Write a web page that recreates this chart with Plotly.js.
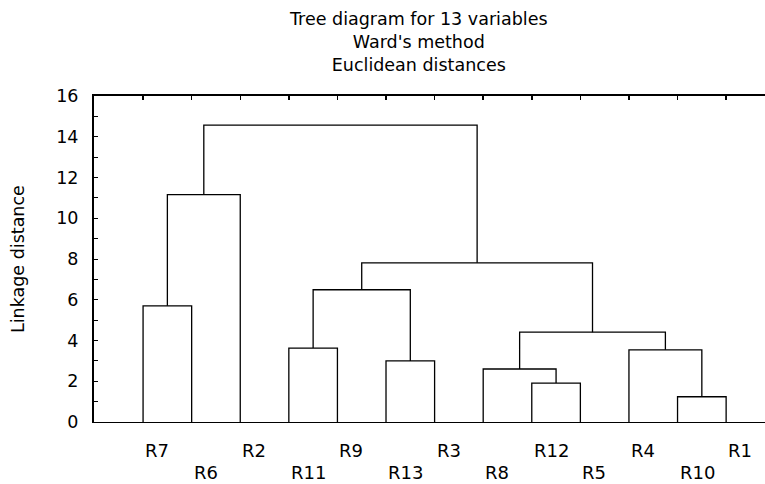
<!DOCTYPE html>
<html>
<head>
<meta charset="utf-8">
<script src="https://cdn.plot.ly/plotly-3.0.1.min.js"></script>
<style>html,body{margin:0;padding:0;background:#fff;}#chart{width:765px;height:484px;}</style>
</head>
<body>
<div id="chart"></div>
<script>
// Leaf order along the x axis
const leafLabels = ['R7','R6','R2','R11','R9','R13','R3','R8','R12','R5','R4','R10','R1'];
// Agglomeration steps (Ward's method): left child, right child, linkage distance
const mergeLeft   = ['R7','M0','R11','R13','M2','R12','R8','R10','R4','M6','M4','M1'];
const mergeRight  = ['R6','R2','R9','R3','M3','R5','M5','R1','M7','M8','M9','M10'];
const mergeHeight = [5.70, 11.16, 3.63, 3.00, 6.49, 1.91, 2.60, 1.24, 3.54, 4.41, 7.81, 14.57];
// Y tick labels
const yTickVals = [0,1,2,3,4,5,6,7,8,9,10,11,12,13,14,15,16];
const yTickText = ['0','','2','','4','','6','','8','','10','','12','','14','','16'];
// Title lines
const titleLines = ['Tree diagram for 13 variables', 'Ward\'s method', 'Euclidean distances'];

const FONT = 'DejaVu Sans, Liberation Sans, Arial, sans-serif';

// node positions
const nodePos = {};
leafLabels.forEach((l, i) => { nodePos[l] = {x: i + 1, y: 0}; });
const lx = [], ly = [];
mergeHeight.forEach((h, i) => {
  const a = nodePos[mergeLeft[i]], b = nodePos[mergeRight[i]];
  lx.push(a.x, a.x, b.x, b.x, null);
  ly.push(a.y, h, h, b.y, null);
  nodePos['M' + i] = {x: (a.x + b.x) / 2, y: h};
});
const leafX = leafLabels.map((l) => nodePos[l].x);

const xRange = [-0.01, 13.8];

const traces = [
  {x: lx, y: ly, mode: 'lines', type: 'scatter', line: {color: '#000', width: 1.3}, hoverinfo: 'skip', showlegend: false},
  {x: leafX, y: leafX.map(() => 0), mode: 'markers', type: 'scatter', xaxis: 'x2', marker: {opacity: 0}, hoverinfo: 'skip', showlegend: false}
];

const annotations = leafLabels.map((l, i) => ({
  text: l, x: leafX[i], xref: 'x', y: 0, yref: 'paper',
  xanchor: 'left', yanchor: 'middle', showarrow: false,
  yshift: (i % 2 === 0) ? -28 : -50.5,
  font: {family: FONT, size: 18, color: '#000'}
}));
annotations.push({
  text: 'Linkage distance', textangle: -90, xref: 'paper', x: 0, xshift: -76,
  yref: 'paper', y: 0.5, xanchor: 'center', yanchor: 'middle', showarrow: false,
  font: {family: FONT, size: 17.5, color: '#000'}
});
annotations.push({
  text: titleLines.join('<br>'), xref: 'paper', x: 0.484, xanchor: 'center',
  yref: 'paper', y: 1, yanchor: 'top', yshift: 89, showarrow: false, align: 'center',
  font: {family: FONT, size: 17.5, color: '#000'}
});

const layout = {
  width: 765, height: 484,
  margin: {l: 94, r: 0, t: 96, b: 62, pad: 0},
  paper_bgcolor: '#fff', plot_bgcolor: '#fff',
  font: {family: FONT, color: '#000'},
  xaxis: {
    range: xRange, showgrid: false, zeroline: false, showline: true,
    linecolor: '#000', linewidth: 1, ticks: '', showticklabels: false, fixedrange: true
  },
  xaxis2: {
    range: xRange, overlaying: 'x', side: 'top', anchor: 'y',
    showgrid: false, zeroline: false, showline: true, linecolor: '#000', linewidth: 2,
    ticks: 'inside', tickvals: leafX, ticklen: 4, tickwidth: 1.5, tickcolor: '#000',
    showticklabels: false, fixedrange: true
  },
  yaxis: {
    range: [0, 16], showgrid: false, zeroline: false, showline: true,
    linecolor: '#000', linewidth: 2, ticks: 'inside', ticklen: 4, tickwidth: 1, tickcolor: '#000',
    tickvals: yTickVals, ticktext: yTickText, ticklabelstandoff: 10,
    tickfont: {family: FONT, size: 17.5, color: '#000'}, fixedrange: true
  },
  annotations: annotations,
  showlegend: false
};

Plotly.newPlot('chart', traces, layout, {displayModeBar: false, staticPlot: true});
</script>
</body>
</html>
